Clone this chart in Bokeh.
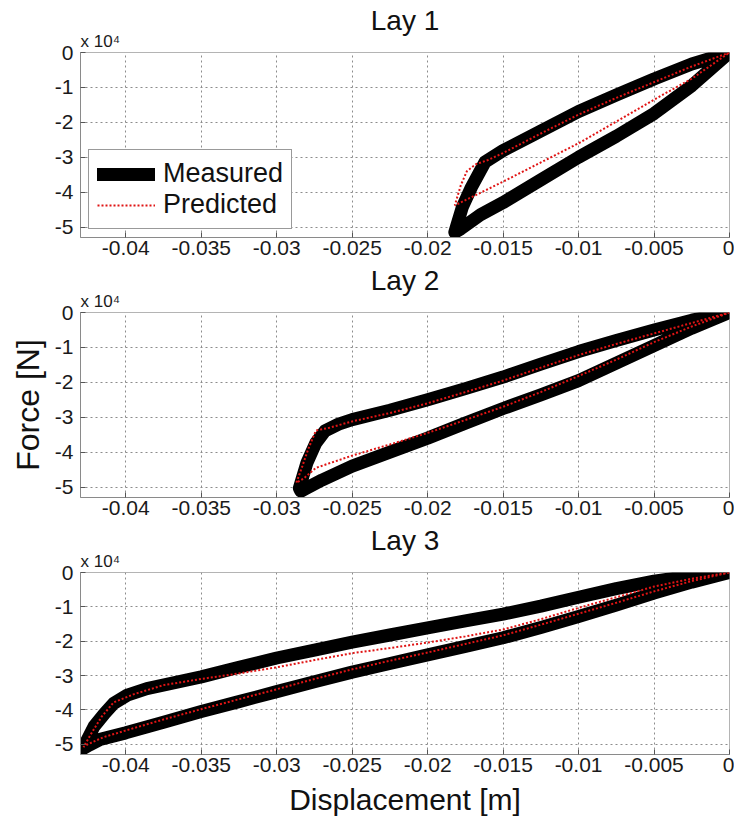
from bokeh.plotting import figure
from bokeh.layouts import column
from bokeh.models import FixedTicker, Range1d, Title
from bokeh.embed import file_html
from bokeh.resources import INLINE

FONT = "Liberation Sans"

# ---- axes ----
x_ticks = [-0.04, -0.035, -0.03, -0.025, -0.02, -0.015, -0.01, -0.005, 0.0]
x_tick_labels = ["-0.04", "-0.035", "-0.03", "-0.025", "-0.02", "-0.015", "-0.01", "-0.005", "0"]
y_ticks = [-5, -4, -3, -2, -1, 0]
y_tick_labels = ["-5", "-4", "-3", "-2", "-1", "0"]
titles = ["Lay 1", "Lay 2", "Lay 3"]
MULT = "x 10⁴"

# ---- data: displacement [m], force [x 10^4 N] ----
lay1_meas_x = [0, -0.0025, -0.005, -0.0075, -0.010, -0.0125, -0.015, -0.0162, -0.0171, -0.0177, -0.0181, -0.0182,
               -0.0178, -0.0165, -0.015, -0.0125, -0.010, -0.0075, -0.005, -0.0025, 0]
lay1_meas_y = [0, -0.33, -0.76, -1.22, -1.69, -2.25, -2.81, -3.14, -3.86, -4.43, -5.0, -5.15,
               -5.05, -4.65, -4.3, -3.65, -3.0, -2.4, -1.75, -0.95, 0]
lay1_pred_x = [0, -0.0025, -0.005, -0.0075, -0.01, -0.0125, -0.015, -0.016, -0.0168, -0.0174, -0.0178, -0.0182,
               -0.015, -0.0125, -0.01, -0.0075, -0.005, -0.0025, 0]
lay1_pred_y = [0, -0.4, -0.85, -1.3, -1.78, -2.32, -2.88, -3.08, -3.2, -3.4, -3.8, -4.38,
               -3.7, -3.15, -2.6, -1.98, -1.35, -0.75, 0]

lay2_meas_x = [0, -0.0025, -0.005, -0.0075, -0.01, -0.0125, -0.015, -0.0175, -0.02, -0.0225, -0.025, -0.0259,
               -0.0268, -0.0274, -0.028, -0.0285, -0.0284,
               -0.0281, -0.027, -0.025, -0.0225, -0.02, -0.0175, -0.015, -0.0125, -0.01, -0.0075, -0.005, -0.0025, 0]
lay2_meas_y = [0, -0.22, -0.5, -0.8, -1.12, -1.48, -1.85, -2.18, -2.5, -2.8, -3.07, -3.2,
               -3.39, -3.73, -4.31, -5.03, -5.12,
               -5.05, -4.8, -4.4, -4.0, -3.6, -3.17, -2.75, -2.36, -1.95, -1.45, -0.95, -0.45, 0]
lay2_pred_x = [0, -0.0025, -0.005, -0.0075, -0.01, -0.0125, -0.015, -0.0175, -0.02, -0.0225, -0.025, -0.0265,
               -0.0274, -0.0279, -0.0283, -0.0287,
               -0.0282, -0.0274, -0.025, -0.0225, -0.02, -0.0175, -0.015, -0.0125, -0.01, -0.0075, -0.005, -0.0025, 0]
lay2_pred_y = [0, -0.3, -0.6, -0.9, -1.22, -1.58, -1.95, -2.28, -2.6, -2.88, -3.12, -3.3,
               -3.38, -3.9, -4.4, -4.88,
               -4.75, -4.45, -4.1, -3.78, -3.45, -3.08, -2.7, -2.28, -1.82, -1.35, -0.85, -0.4, 0]

lay3_meas_x = [0, -0.0025, -0.005, -0.0075, -0.01, -0.0125, -0.015, -0.0175, -0.02, -0.0225, -0.025, -0.0275,
               -0.03, -0.0325, -0.035, -0.0386, -0.0399, -0.0408, -0.0414, -0.0421, -0.0427, -0.0428,
               -0.0424, -0.0417, -0.04, -0.0375, -0.035, -0.0325, -0.03, -0.0275, -0.025, -0.0225, -0.02,
               -0.0175, -0.015, -0.0125, -0.01, -0.0075, -0.005, -0.0025, 0]
lay3_meas_y = [0, -0.1, -0.25, -0.47, -0.72, -0.98, -1.21, -1.41, -1.61, -1.82, -2.03, -2.26,
               -2.49, -2.76, -3.04, -3.38, -3.57, -3.81, -4.1, -4.48, -5.0, -5.12,
               -5.02, -4.86, -4.67, -4.36, -4.05, -3.76, -3.47, -3.18, -2.9, -2.65, -2.4,
               -2.15, -1.9, -1.6, -1.28, -0.95, -0.6, -0.28, 0]
lay3_pred_x = [0, -0.0025, -0.005, -0.0075, -0.01, -0.0125, -0.015, -0.0175, -0.02, -0.0225, -0.025, -0.0275,
               -0.03, -0.0325, -0.035, -0.0375, -0.0395, -0.0408, -0.0416, -0.0423, -0.0428,
               -0.0425, -0.0415, -0.04, -0.0375, -0.035, -0.0325, -0.03, -0.0275, -0.025, -0.0225, -0.02,
               -0.0175, -0.015, -0.0125, -0.01, -0.0075, -0.005, -0.0025, 0]
lay3_pred_y = [0, -0.18, -0.41, -0.72, -1.03, -1.36, -1.66, -1.86, -2.04, -2.2, -2.35, -2.55,
               -2.76, -2.94, -3.1, -3.28, -3.55, -3.78, -4.2, -4.7, -5.08,
               -5.0, -4.8, -4.6, -4.28, -3.98, -3.69, -3.4, -3.1, -2.82, -2.57, -2.33,
               -2.08, -1.83, -1.52, -1.2, -0.88, -0.55, -0.25, 0]


def make_panel(title, mx, my, px, py, height, border_top, border_bottom, ylabel=None, xlabel=None,
               legend=False):
    p = figure(width=734, height=height, output_backend="svg", toolbar_location=None,
               x_range=Range1d(-0.043, 0), y_range=Range1d(-5.3, 0),
               min_border_left=80, min_border_right=5, min_border_top=border_top,
               min_border_bottom=border_bottom)
    p.background_fill_color = "white"
    p.border_fill_color = "white"
    p.outline_line_color = "#b4b4b4"

    p.title.text = title
    p.title.align = "center"
    p.title.text_font = FONT
    p.title.text_font_size = "28px"
    p.title.text_font_style = "normal"
    p.title.text_color = "#111111"
    p.title.standoff = -15

    # multiplier "x 10^4" sits just above the top-left corner of the axes
    p.add_layout(Title(text=MULT, align="left", text_font=FONT, text_font_size="17px",
                       text_font_style="normal", text_color="#1a1a1a", standoff=3), "above")

    p.xaxis.ticker = FixedTicker(ticks=x_ticks)
    p.xaxis.major_label_overrides = {t: l for t, l in zip(x_ticks, x_tick_labels)}
    p.yaxis.ticker = FixedTicker(ticks=y_ticks)
    p.yaxis.major_label_overrides = {t: l for t, l in zip(y_ticks, y_tick_labels)}
    for ax in (p.xaxis[0], p.yaxis[0]):
        ax.axis_line_color = "#8a8a8a"
        ax.major_tick_in = 5
        ax.major_tick_out = 0
        ax.major_tick_line_color = "#555555"
        ax.minor_tick_line_color = None
        ax.major_label_text_font = FONT
        ax.major_label_text_font_size = "21px"
        ax.major_label_text_color = "#1a1a1a"
    p.xaxis.major_label_standoff = 3
    p.yaxis.major_label_standoff = 7

    p.grid.grid_line_color = "#8c8c8c"
    p.grid.grid_line_dash = "2 3"
    p.grid.grid_line_width = 1

    if ylabel:
        p.yaxis.axis_label = ylabel
        p.yaxis.axis_label_text_font = FONT
        p.yaxis.axis_label_text_font_size = "32px"
        p.yaxis.axis_label_text_font_style = "normal"
        p.yaxis.axis_label_text_color = "#111111"
        p.yaxis.axis_label_standoff = 6
    if xlabel:
        p.xaxis.axis_label = xlabel
        p.xaxis.axis_label_text_font = FONT
        p.xaxis.axis_label_text_font_size = "30px"
        p.xaxis.axis_label_text_font_style = "normal"
        p.xaxis.axis_label_text_color = "#111111"
        p.xaxis.axis_label_standoff = 8

    kw_m = dict(legend_label="Measured") if legend else {}
    kw_p = dict(legend_label="Predicted") if legend else {}
    p.line(mx, my, line_color="black", line_width=13, line_join="round", line_cap="round", **kw_m)
    p.line(px, py, line_color="#e01414", line_width=2, line_dash="2 2", **kw_p)

    if legend:
        lg = p.legend[0]
        lg.location = (8, 8)
        lg.label_text_font = FONT
        lg.label_text_font_size = "27px"
        lg.label_text_color = "#111111"
        lg.glyph_width = 58
        lg.glyph_height = 30
        lg.label_height = 30
        lg.label_standoff = 8
        lg.padding = 8
        lg.spacing = 0
        lg.margin = 0
        lg.border_line_color = "#333333"
        lg.border_line_width = 1
        lg.background_fill_color = "white"
        lg.background_fill_alpha = 1.0
    return p


p1 = make_panel(titles[0], lay1_meas_x, lay1_meas_y, lay1_pred_x, lay1_pred_y, 265, 52, 28, legend=True)
p2 = make_panel(titles[1], lay2_meas_x, lay2_meas_y, lay2_pred_x, lay2_pred_y, 260, 47, 28,
                ylabel="Force [N]")
p3 = make_panel(titles[2], lay3_meas_x, lay3_meas_y, lay3_pred_x, lay3_pred_y, 294, 47, 65,
                xlabel="Displacement [m]")

layout = column(p1, p2, p3, spacing=0)
open("out.html", "w").write(file_html(layout, INLINE))
